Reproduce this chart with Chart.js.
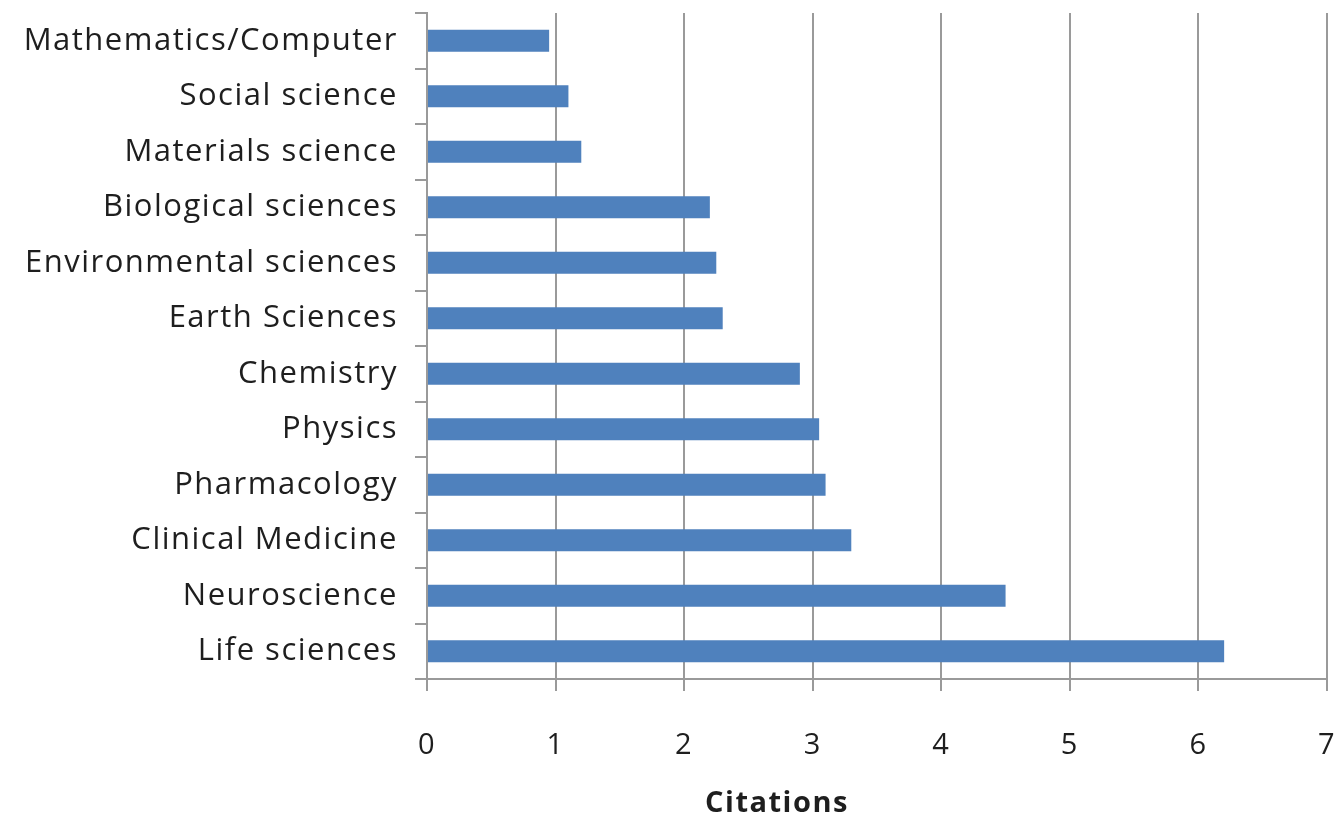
<!DOCTYPE html>
<html>
<head>
<meta charset="utf-8">
<script src="https://cdn.jsdelivr.net/npm/chart.js@4"></script>
<style>
  html, body { margin: 0; padding: 0; background: #fff; }
  #wrap { width: 1338px; height: 824px; }
</style>
</head>
<body>
<div id="wrap"><canvas id="chart" width="1338" height="824"></canvas></div>
<script>
var categories = ['Mathematics/Computer', 'Social science', 'Materials science', 'Biological sciences',
    'Environmental sciences', 'Earth Sciences', 'Chemistry', 'Physics', 'Pharmacology',
    'Clinical Medicine', 'Neuroscience', 'Life sciences'];
var citations = [0.95, 1.1, 1.2, 2.2, 2.25, 2.3, 2.9, 3.05, 3.1, 3.3, 4.5, 6.2];
var xTicks = [0, 1, 2, 3, 4, 5, 6, 7];
var xTitle = 'Citations';

var axisGray = '#9a9a9a';
var textColor = '#1e1e1e';
var fontFamily = '"Open Sans", "Noto Sans", sans-serif';

// the original text is set a bit wide, so space the letters out a little
var letterSpacingPlugin = {
    id: 'letterSpacing',
    beforeLayout: function (chart) { chart.ctx.letterSpacing = '1.5px'; },
    beforeDraw: function (chart) { chart.ctx.letterSpacing = '1.5px'; }
};

// axis title sits left of the plot centre, as in the original
var axisTitlePlugin = {
    id: 'axisTitle',
    afterDraw: function (chart) {
        var c = chart.ctx;
        c.save();
        c.letterSpacing = '1.5px';
        c.font = 'bold 29px ' + fontFamily;
        c.fillStyle = textColor;
        c.textAlign = 'center';
        c.textBaseline = 'middle';
        c.fillText(xTitle, 777, chart.height - 20);
        c.restore();
    }
};

var ctx = document.getElementById('chart');
new Chart(ctx, {
    type: 'bar',
    data: {
        labels: categories,
        datasets: [{
            label: xTitle,
            data: citations,
            backgroundColor: '#4f81bd',
            borderWidth: 0,
            barPercentage: 0.4,
            categoryPercentage: 1
        }]
    },
    plugins: [letterSpacingPlugin, axisTitlePlugin],
    options: {
        indexAxis: 'y',
        responsive: false,
        animation: false,
        layout: { padding: { top: 13, right: 11, left: 0, bottom: 0 } },
        plugins: {
            legend: { display: false },
            tooltip: { enabled: false }
        },
        scales: {
            x: {
                min: xTicks[0],
                max: xTicks[xTicks.length - 1],
                afterBuildTicks: function (scale) {
                    scale.ticks = xTicks.map(function (v) { return { value: v }; });
                },
                afterFit: function (scale) {
                    scale.height = 145;
                    scale.paddingLeft = 0;
                    scale.paddingRight = 0;
                },
                grid: { color: axisGray, lineWidth: 2, tickLength: 12 },
                border: { display: true, color: axisGray, width: 2 },
                ticks: {
                    padding: 37,
                    color: textColor,
                    font: { family: fontFamily, size: 29 }
                }
            },
            y: {
                afterFit: function (scale) {
                    scale.width = 427;
                    scale.paddingTop = 0;
                    scale.paddingBottom = 0;
                },
                grid: { drawOnChartArea: false, color: axisGray, lineWidth: 2, tickLength: 12 },
                border: { display: true, color: axisGray, width: 2 },
                ticks: {
                    padding: 17,
                    color: textColor,
                    font: { family: fontFamily, size: 31 }
                }
            }
        }
    }
});
</script>
</body>
</html>
